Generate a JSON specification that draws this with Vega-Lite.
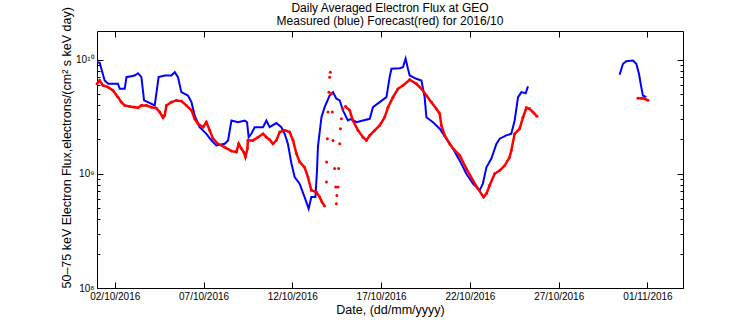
{
  "$schema": "https://vega.github.io/schema/vega-lite/v6.json",
  "width": 586,
  "height": 257,
  "autosize": {"type": "none"},
  "padding": {"left": 97, "top": 31, "right": 73, "bottom": 36},
  "background": "white",
  "config": {
    "view": {"stroke": "black", "strokeWidth": 1},
    "font": "Liberation Sans",
    "axis": {
      "labelFont": "Liberation Sans", "titleFont": "Liberation Sans",
      "labelColor": "black", "titleColor": "black", "tickColor": "black",
      "grid": false, "domain": false, "labelFontSize": 10, "titleFontSize": 12.5,
      "titleFontWeight": "normal", "tickWidth": 1
    }
  },
  "title": {
    "text": ["Daily Averaged Electron Flux at GEO", "Measured (blue) Forecast(red) for 2016/10"],
    "fontSize": 12, "fontWeight": "normal", "font": "Liberation Sans", "anchor": "middle",
    "offset": 4, "dy": 25, "lineHeight": 13, "color": "black"
  },
  "datasets": {
    "measured": [
      {"seg":1,"day":1.00,"flux":9.49e9},{"seg":1,"day":1.15,"flux":9.4e9},{"seg":1,"day":1.43,"flux":6.56e9},{"seg":1,"day":1.62,"flux":6.14e9},{"seg":1,"day":2.18,"flux":6.14e9},{"seg":1,"day":2.28,"flux":5.55e9},{"seg":1,"day":2.56,"flux":5.55e9},{"seg":1,"day":2.66,"flux":7.02e9},{"seg":1,"day":3.12,"flux":7.26e9},{"seg":1,"day":3.31,"flux":7.60e9},{"seg":1,"day":3.50,"flux":7.02e9},{"seg":1,"day":3.65,"flux":4.39e9},{"seg":1,"day":3.87,"flux":4.24e9},{"seg":1,"day":4.25,"flux":3.97e9},{"seg":1,"day":4.47,"flux":7.02e9},{"seg":1,"day":4.81,"flux":7.26e9},{"seg":1,"day":5.19,"flux":7.26e9},{"seg":1,"day":5.38,"flux":7.76e9},{"seg":1,"day":5.56,"flux":7.02e9},{"seg":1,"day":5.75,"flux":5.19e9},{"seg":1,"day":6.12,"flux":4.85e9},{"seg":1,"day":6.32,"flux":4.24e9},{"seg":1,"day":6.50,"flux":3.24e9},{"seg":1,"day":6.78,"flux":2.56e9},{"seg":1,"day":7.16,"flux":2.24e9},{"seg":1,"day":7.44,"flux":1.96e9},{"seg":1,"day":7.72,"flux":1.77e9},{"seg":1,"day":8.19,"flux":1.83e9},{"seg":1,"day":8.38,"flux":1.96e9},{"seg":1,"day":8.57,"flux":2.93e9},{"seg":1,"day":8.94,"flux":2.83e9},{"seg":1,"day":9.32,"flux":2.93e9},{"seg":1,"day":9.45,"flux":2.83e9},{"seg":1,"day":9.54,"flux":2.09e9},{"seg":1,"day":9.69,"flux":2.24e9},{"seg":1,"day":9.88,"flux":2.56e9},{"seg":1,"day":10.35,"flux":2.56e9},{"seg":1,"day":10.54,"flux":2.93e9},{"seg":1,"day":10.72,"flux":2.56e9},{"seg":1,"day":11.10,"flux":2.78e9},{"seg":1,"day":11.38,"flux":2.56e9},{"seg":1,"day":11.57,"flux":2.24e9},{"seg":1,"day":11.75,"flux":1.83e9},{"seg":1,"day":11.95,"flux":1.23e9},{"seg":1,"day":12.13,"flux":9.36e8},{"seg":1,"day":12.41,"flux":8.19e8},{"seg":1,"day":12.69,"flux":6.25e8},{"seg":1,"day":12.92,"flux":4.95e8},{"seg":1,"day":13.07,"flux":6.25e8},{"seg":1,"day":13.30,"flux":6.25e8},{"seg":1,"day":13.39,"flux":1.07e9},{"seg":1,"day":13.44,"flux":1.71e9},{"seg":1,"day":13.64,"flux":3.13e9},{"seg":1,"day":13.82,"flux":3.83e9},{"seg":1,"day":14.10,"flux":4.85e9},{"seg":1,"day":14.29,"flux":5.19e9},{"seg":1,"day":14.48,"flux":4.54e9},{"seg":1,"day":14.67,"flux":4.39e9},{"seg":1,"day":14.85,"flux":3.59e9},{"seg":1,"day":15.13,"flux":2.93e9},{"seg":1,"day":15.32,"flux":3.03e9},{"seg":1,"day":15.61,"flux":2.83e9},{"seg":1,"day":15.98,"flux":2.93e9},{"seg":1,"day":16.36,"flux":3.03e9},{"seg":1,"day":16.54,"flux":3.83e9},{"seg":1,"day":16.92,"flux":4.24e9},{"seg":1,"day":17.30,"flux":4.69e9},{"seg":1,"day":17.48,"flux":7.02e9},{"seg":1,"day":17.58,"flux":8.31e9},{"seg":1,"day":18.04,"flux":8.41e9},{"seg":1,"day":18.23,"flux":8.58e9},{"seg":1,"day":18.38,"flux":1.02e10},{"seg":1,"day":18.51,"flux":8.31e9},{"seg":1,"day":18.61,"flux":7.26e9},{"seg":1,"day":18.98,"flux":6.79e9},{"seg":1,"day":19.27,"flux":6.56e9},{"seg":1,"day":19.45,"flux":4.69e9},{"seg":1,"day":19.55,"flux":3.13e9},{"seg":1,"day":19.92,"flux":2.83e9},{"seg":1,"day":20.30,"flux":2.48e9},{"seg":1,"day":20.67,"flux":2.03e9},{"seg":1,"day":21.05,"flux":1.66e9},{"seg":1,"day":21.42,"flux":1.31e9},{"seg":1,"day":21.80,"flux":1.00e9},{"seg":1,"day":22.17,"flux":8.19e8},{"seg":1,"day":22.55,"flux":7.16e8},{"seg":1,"day":22.73,"flux":8.19e8},{"seg":1,"day":22.93,"flux":1.14e9},{"seg":1,"day":23.21,"flux":1.36e9},{"seg":1,"day":23.49,"flux":1.83e9},{"seg":1,"day":23.68,"flux":2.03e9},{"seg":1,"day":24.05,"flux":2.17e9},{"seg":1,"day":24.33,"flux":2.24e9},{"seg":1,"day":24.52,"flux":2.93e9},{"seg":1,"day":24.71,"flux":4.69e9},{"seg":1,"day":24.90,"flux":5.19e9},{"seg":1,"day":25.14,"flux":5.08e9},{"seg":1,"day":25.27,"flux":5.82e9},
      {"seg":2,"day":30.43,"flux":7.36e9},{"seg":2,"day":30.62,"flux":9.19e9},{"seg":2,"day":30.81,"flux":9.68e9},{"seg":2,"day":31.18,"flux":9.83e9},{"seg":2,"day":31.37,"flux":9.19e9},{"seg":2,"day":31.52,"flux":7.51e9},{"seg":2,"day":31.65,"flux":5.74e9},{"seg":2,"day":31.74,"flux":4.85e9},{"seg":2,"day":31.93,"flux":4.69e9}
    ],
    "forecast": [
      {"run":1,"day":1.00,"flux":6.14e9},{"run":1,"day":1.15,"flux":6.56e9},{"run":1,"day":1.34,"flux":5.93e9},{"run":1,"day":1.62,"flux":5.74e9},{"run":1,"day":1.90,"flux":5.37e9},{"run":1,"day":2.18,"flux":4.69e9},{"run":1,"day":2.37,"flux":4.24e9},{"run":1,"day":2.56,"flux":3.97e9},{"run":1,"day":2.84,"flux":3.89e9},{"run":1,"day":3.12,"flux":3.83e9},{"run":1,"day":3.31,"flux":3.79e9},{"run":1,"day":3.50,"flux":3.97e9},{"run":1,"day":3.78,"flux":3.97e9},{"run":1,"day":4.06,"flux":3.83e9},{"run":1,"day":4.34,"flux":3.76e9},{"run":1,"day":4.53,"flux":3.47e9},{"run":1,"day":4.72,"flux":3.10e9},{"run":1,"day":4.81,"flux":3.24e9},{"run":1,"day":4.91,"flux":3.97e9},{"run":1,"day":5.19,"flux":4.24e9},{"run":1,"day":5.47,"flux":4.39e9},{"run":1,"day":5.75,"flux":4.33e9},{"run":1,"day":6.03,"flux":3.97e9},{"run":1,"day":6.32,"flux":3.59e9},{"run":1,"day":6.50,"flux":3.03e9},{"run":1,"day":6.69,"flux":2.74e9},{"run":1,"day":6.97,"flux":2.56e9},{"run":1,"day":7.16,"flux":2.83e9},{"run":1,"day":7.35,"flux":2.40e9},{"run":1,"day":7.53,"flux":2.03e9},{"run":1,"day":7.81,"flux":1.83e9},{"run":1,"day":8.19,"flux":1.71e9},{"run":1,"day":8.57,"flux":1.58e9},{"run":1,"day":8.85,"flux":1.55e9},{"run":1,"day":8.98,"flux":1.83e9},{"run":1,"day":9.13,"flux":1.66e9},{"run":1,"day":9.26,"flux":1.55e9},{"run":1,"day":9.36,"flux":1.40e9},{"run":1,"day":9.47,"flux":1.66e9},{"run":1,"day":9.50,"flux":1.96e9},{"run":1,"day":9.78,"flux":1.96e9},{"run":1,"day":10.07,"flux":2.09e9},{"run":1,"day":10.35,"flux":2.24e9},{"run":1,"day":10.54,"flux":2.09e9},{"run":1,"day":10.72,"flux":1.99e9},{"run":1,"day":10.91,"flux":1.83e9},{"run":1,"day":11.10,"flux":1.96e9},{"run":1,"day":11.29,"flux":2.32e9},{"run":1,"day":11.57,"flux":2.40e9},{"run":1,"day":11.85,"flux":2.32e9},{"run":1,"day":12.04,"flux":1.96e9},{"run":1,"day":12.23,"flux":1.50e9},{"run":1,"day":12.41,"flux":1.27e9},{"run":1,"day":12.69,"flux":1.14e9},{"run":1,"day":12.88,"flux":9.36e8},{"run":1,"day":13.07,"flux":7.16e8},{"run":1,"day":13.35,"flux":6.92e8},{"run":1,"day":13.54,"flux":6.25e8},{"run":1,"day":13.67,"flux":5.65e8},{"run":1,"day":13.82,"flux":5.22e8},
      {"run":2,"day":13.92,"flux":8.46e8},{"run":2,"day":13.93,"flux":1.27e9},{"run":2,"day":13.97,"flux":2.03e9},{"run":2,"day":14.01,"flux":3.47e9},{"run":2,"day":14.06,"flux":5.19e9},{"run":2,"day":14.10,"flux":7.02e9},{"run":2,"day":14.14,"flux":7.76e9},{"run":2,"day":14.20,"flux":5.02e9},{"run":2,"day":14.25,"flux":3.47e9},{"run":2,"day":14.29,"flux":1.96e9},{"run":2,"day":14.38,"flux":1.11e9},{"run":2,"day":14.44,"flux":7.65e8},{"run":2,"day":14.48,"flux":5.47e8},{"run":2,"day":14.51,"flux":6.47e8},{"run":2,"day":14.57,"flux":7.65e8},{"run":2,"day":14.61,"flux":1.11e9},{"run":2,"day":14.67,"flux":1.83e9},{"run":2,"day":14.71,"flux":2.48e9},{"run":2,"day":14.76,"flux":3.03e9},{"run":2,"day":14.85,"flux":3.71e9},
      {"run":3,"day":14.99,"flux":3.89e9},{"run":3,"day":15.23,"flux":3.59e9},{"run":3,"day":15.41,"flux":2.93e9},{"run":3,"day":15.70,"flux":2.40e9},{"run":3,"day":15.98,"flux":2.09e9},{"run":3,"day":16.17,"flux":1.96e9},{"run":3,"day":16.36,"flux":2.17e9},{"run":3,"day":16.64,"flux":2.40e9},{"run":3,"day":16.92,"flux":2.65e9},{"run":3,"day":17.20,"flux":3.13e9},{"run":3,"day":17.39,"flux":3.83e9},{"run":3,"day":17.67,"flux":4.69e9},{"run":3,"day":17.95,"flux":5.55e9},{"run":3,"day":18.23,"flux":5.93e9},{"run":3,"day":18.61,"flux":6.66e9},{"run":3,"day":18.98,"flux":6.14e9},{"run":3,"day":19.27,"flux":5.55e9},{"run":3,"day":19.55,"flux":4.85e9},{"run":3,"day":19.83,"flux":4.24e9},{"run":3,"day":20.11,"flux":3.71e9},{"run":3,"day":20.30,"flux":3.36e9},{"run":3,"day":20.39,"flux":2.65e9},{"run":3,"day":20.58,"flux":2.17e9},{"run":3,"day":20.86,"flux":1.83e9},{"run":3,"day":21.14,"flux":1.60e9},{"run":3,"day":21.42,"flux":1.45e9},{"run":3,"day":21.80,"flux":1.11e9},{"run":3,"day":22.17,"flux":8.75e8},{"run":3,"day":22.45,"flux":7.41e8},{"run":3,"day":22.77,"flux":6.25e8},{"run":3,"day":22.93,"flux":6.70e8},{"run":3,"day":23.11,"flux":7.91e8},{"run":3,"day":23.39,"flux":1.00e9},{"run":3,"day":23.68,"flux":1.07e9},{"run":3,"day":23.96,"flux":1.18e9},{"run":3,"day":24.24,"flux":1.40e9},{"run":3,"day":24.33,"flux":1.60e9},{"run":3,"day":24.52,"flux":2.24e9},{"run":3,"day":24.80,"flux":2.48e9},{"run":3,"day":24.99,"flux":3.13e9},{"run":3,"day":25.18,"flux":3.79e9},{"run":3,"day":25.36,"flux":3.71e9},{"run":3,"day":25.55,"flux":3.47e9},{"run":3,"day":25.78,"flux":3.18e9},
      {"run":4,"day":31.46,"flux":4.59e9},{"run":4,"day":31.65,"flux":4.59e9},{"run":4,"day":31.84,"flux":4.54e9},{"run":4,"day":32.03,"flux":4.39e9}
    ]
  },
  "layer": [
    {
      "data": {"name": "measured"},
      "mark": {"type": "line", "color": "#0000ff", "strokeWidth": 2},
      "encoding": {
        "x": {
          "field": "day", "type": "quantitative",
          "scale": {"domain": [1, 34], "nice": false, "zero": false},
          "axis": {
            "orient": "bottom", "values": [2, 7, 12, 17, 22, 27, 32],
            "labelExpr": "datum.value == 32 ? '01/11/2016' : (datum.value < 10 ? '0' : '') + datum.value + '/10/2016'",
            "offset": -6, "tickSize": 6, "labelPadding": 3,
            "title": "Date, (dd/mm/yyyy)", "titlePadding": 2
          }
        },
        "y": {
          "field": "flux", "type": "quantitative",
          "scale": {"type": "log", "domain": [1e8, 1.78e10], "nice": false},
          "axis": {
            "orient": "left",
            "values": [1e8, 1e9, 1e10],
            "labelExpr": "datum.value == 1e10 ? '10¹⁰' : datum.value == 1e9 ? '10⁹' : '10⁸'",
            "offset": -6, "tickSize": 6, "labelPadding": 3,
            "title": "50–75 keV Electron Flux,electrons/(cm² s keV day)",
            "titleAngle": -90, "titleAlign": "left", "titleBaseline": "middle",
            "titleX": -37, "titleY": 257
          }
        },
        "detail": {"field": "seg", "type": "nominal"}
      }
    },
    {
      "data": {"name": "forecast"},
      "transform": [{"filter": "datum.run != 2"}],
      "mark": {"type": "line", "color": "#ff0000", "strokeWidth": 2.5},
      "encoding": {
        "x": {
          "field": "day", "type": "quantitative",
          "axis": {"orient": "top", "values": [2, 7, 12, 17, 22, 27, 32], "labels": false, "offset": -6, "tickSize": 6, "title": null}
        },
        "y": {
          "field": "flux", "type": "quantitative",
          "axis": {"orient": "right", "values": [1e8, 1e9, 1e10], "labels": false, "offset": -6, "tickSize": 6, "title": null}
        },
        "detail": {"field": "run", "type": "nominal"}
      }
    },
    {
      "data": {"name": "forecast"},
      "transform": [{"filter": "datum.run != 2"}],
      "mark": {"type": "point", "filled": true, "shape": "circle", "size": 8, "color": "#ff0000", "opacity": 1},
      "encoding": {
        "x": {"field": "day", "type": "quantitative", "axis": null},
        "y": {
          "field": "flux", "type": "quantitative",
          "axis": {"orient": "left", "values": [2e8, 3e8, 4e8, 5e8, 6e8, 7e8, 8e8, 9e8, 2e9, 3e9, 4e9, 5e9, 6e9, 7e9, 8e9, 9e9], "labels": false, "offset": -3, "tickSize": 3, "title": null}
        }
      }
    },
    {
      "data": {"name": "forecast"},
      "transform": [{"filter": "datum.run == 2"}],
      "mark": {"type": "point", "filled": true, "shape": "circle", "size": 9, "color": "#ff0000", "opacity": 1},
      "encoding": {
        "x": {"field": "day", "type": "quantitative", "axis": null},
        "y": {
          "field": "flux", "type": "quantitative",
          "axis": {"orient": "right", "values": [2e8, 3e8, 4e8, 5e8, 6e8, 7e8, 8e8, 9e8, 2e9, 3e9, 4e9, 5e9, 6e9, 7e9, 8e9, 9e9], "labels": false, "offset": -3, "tickSize": 3, "title": null}
        }
      }
    }
  ],
  "resolve": {"axis": {"x": "independent", "y": "independent"}}
}
